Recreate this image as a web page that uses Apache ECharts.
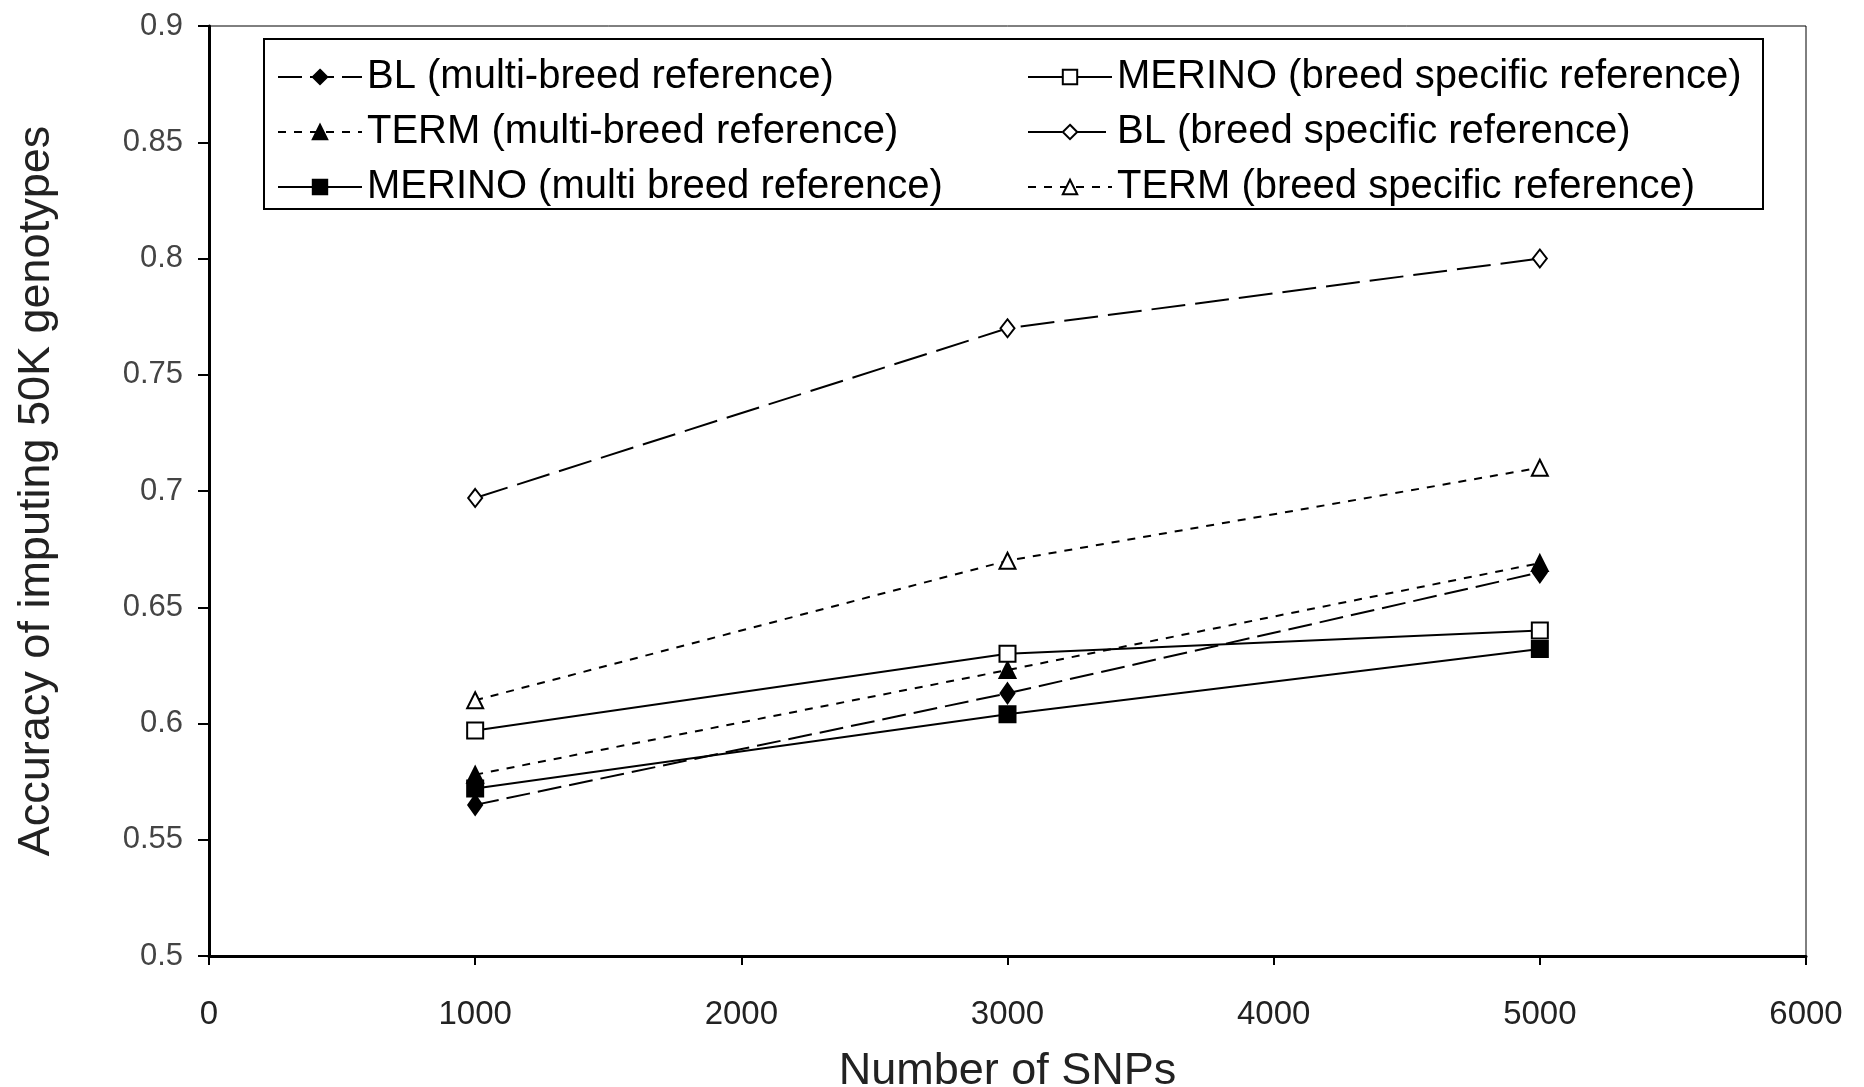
<!DOCTYPE html>
<html>
<head>
<meta charset="utf-8">
<script src="https://cdn.jsdelivr.net/npm/echarts@6/dist/echarts.min.js"></script>
<style>
  html, body { margin: 0; padding: 0; background: #fff; }
  #chart { width: 1864px; height: 1087px; }
</style>
</head>
<body>
<div id="chart"></div>
<script>
// number of SNPs on the x axis
var snps = [1000, 3000, 5000];

// accuracy values per series
var blMulti = [0.565, 0.613, 0.665];
var termMulti = [0.578, 0.623, 0.669];
var merinoMulti = [0.572, 0.604, 0.632];
var merinoSpecific = [0.597, 0.630, 0.640];
var blSpecific = [0.697, 0.770, 0.800];
var termSpecific = [0.610, 0.670, 0.710];

var names = [
    'BL (multi-breed reference)',
    'TERM (multi-breed reference)',
    'MERINO (multi breed reference)',
    'MERINO (breed specific reference)',
    'BL (breed specific reference)',
    'TERM (breed specific reference)'
];

var narrow = "'Liberation Sans Narrow', 'Liberation Sans', Arial, sans-serif";

function pairs(vals) {
    return snps.map(function (x, i) { return [x, vals[i]]; });
}

function line(name, vals, symbol, size, filled, dash) {
    return {
        name: name,
        type: 'line',
        data: pairs(vals),
        symbol: symbol,
        symbolSize: size,
        showAllSymbol: true,
        lineStyle: { color: '#000', width: 2, type: dash },
        itemStyle: { color: filled ? '#000' : '#fff', borderColor: '#000', borderWidth: 2 },
        emphasis: { disabled: true },
        animation: false
    };
}

var chart = echarts.init(document.getElementById('chart'));

var legendText = { fontFamily: narrow, fontSize: 40, color: '#000' };

var option = {
    backgroundColor: '#fff',
    animation: false,
    grid: {
        left: 209, right: 58, top: 26, bottom: 131,
        outerBoundsMode: 'none',
        show: true, borderColor: '#000', borderWidth: 1
    },
    legend: [{
        orient: 'vertical',
        left: 272, top: 52,
        itemWidth: 84, itemHeight: 18, itemGap: 15,
        data: names.slice(0, 3),
        textStyle: legendText
    }, {
        orient: 'vertical',
        left: 1022, top: 52,
        itemWidth: 84, itemHeight: 18, itemGap: 15,
        data: names.slice(3),
        textStyle: legendText
    }],
    graphic: [{
        type: 'rect',
        z: 1,
        shape: { x: 264, y: 39, width: 1499, height: 170 },
        style: { fill: '#fff', stroke: '#000', lineWidth: 2 }
    }],
    xAxis: {
        type: 'value',
        min: 0, max: 6000, interval: 1000,
        name: 'Number of SNPs',
        nameLocation: 'middle',
        nameGap: 93,
        nameTextStyle: { fontFamily: narrow, fontSize: 45, color: '#222' },
        axisLine: { lineStyle: { color: '#000', width: 3 } },
        axisTick: { inside: false, length: 9, lineStyle: { color: '#000', width: 2 } },
        axisLabel: {
            margin: 42, fontFamily: narrow, fontSize: 33, color: '#222',
            formatter: function (v) { return String(v); }
        },
        splitLine: { show: false }
    },
    yAxis: {
        type: 'value',
        min: 0.5, max: 0.9, interval: 0.05,
        name: 'Accuracy of imputing 50K genotypes',
        nameLocation: 'middle',
        nameGap: 150,
        nameTextStyle: { fontFamily: narrow, fontSize: 45, color: '#222' },
        axisLine: { lineStyle: { color: '#000', width: 3 } },
        axisTick: { inside: false, length: 11, lineStyle: { color: '#000', width: 2 } },
        axisLabel: {
            margin: 26, fontFamily: "'Liberation Sans', Arial, sans-serif", fontSize: 31, color: '#444',
            formatter: function (v) { return String(+v.toFixed(2)); }
        },
        splitLine: { show: false }
    },
    series: [
        line(names[0], blMulti, 'diamond', [14, 20], true, [24, 8]),
        line(names[1], termMulti, 'triangle', 16, true, [8, 8]),
        line(names[2], merinoMulti, 'rect', 16, true, 'solid'),
        line(names[3], merinoSpecific, 'rect', 16, false, 'solid'),
        line(names[4], blSpecific, 'diamond', [14, 18], false, [34, 10]),
        line(names[5], termSpecific, 'triangle', 16, false, [8, 8])
    ]
};

chart.setOption(option);
</script>
</body>
</html>
